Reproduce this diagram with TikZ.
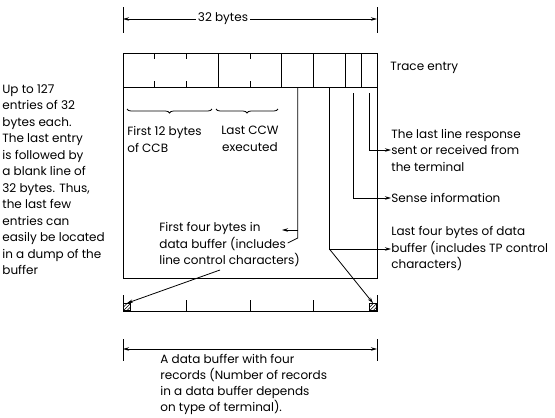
\documentclass[tikz,border=0pt]{standalone}
\usepackage{fontspec}
\setmainfont{Poppins}
\usetikzlibrary{arrows.meta,decorations.pathreplacing}

\begin{document}
\begin{tikzpicture}[x=1pt, y=-1pt, >={Stealth[length=6pt,width=3.5pt]}, line width=0.8pt,
    txt/.style={align=left, inner sep=0pt, font=\fontsize{12}{16.5}\selectfont},
    ctxt/.style={txt, align=center},
    brc/.style={decorate, decoration={brace, mirror, amplitude=4pt}},
    hatch/.style={draw, minimum size=7pt, inner sep=0pt,
      path picture={\draw[line width=0.5pt] (path picture bounding box.south west) -- (path picture bounding box.north east);
        \draw[line width=0.5pt] (path picture bounding box.west) -- (path picture bounding box.north);
        \draw[line width=0.5pt] (path picture bounding box.south) -- (path picture bounding box.east);}}]
  \useasboundingbox (0,0) rectangle (555,418);

  % trace entry, 32 bytes
  \draw (123,53) rectangle (377,87);
  \foreach \b in {12,20,24,28,30}
    \draw (123+\b*7.9375,53) -- (123+\b*7.9375,87);
  \foreach \b in {4,8,16} {
    \draw (123+\b*7.9375,53) -- ++(0,6);
    \draw (123+\b*7.9375,87) -- ++(0,-6);
  }
  \draw (123,87) rectangle (377,278);

  % width of an entry
  \coordinate (topL) at (123,19);
  \coordinate (topR) at (377,19);
  \draw (123,7) -- (123,33);
  \draw (377,7) -- (377,33);
  \draw[<->] (topL) -- (topR);
  \node[fill=white, inner xsep=1.5pt, inner ysep=0pt, font=\fontsize{12}{14}\selectfont] (width) at (223,19) {32 bytes};

  % fields
  \coordinate (dbfirst) at (297.7,87);
  \coordinate (dblast) at (329.4,87);
  \coordinate (sensef) at (353.2,93);
  \coordinate (respf) at (369.1,93);

  \draw[brc] (127,109) -- (212,109);
  \draw[brc] (216,109) -- (278,109);

  % labels
  \node[txt, anchor=west] (trace) at (390,68) {Trace entry};
  \node[txt, anchor=north west] (ccb) at (127,126) {First 12 bytes\\of CCB};
  \node[ctxt, anchor=north] (ccw) at (250,126) {Last CCW\\executed};
  \node[txt, anchor=west] (resp) at (391,150) {The last line response\\sent or received from\\the terminal};
  \node[txt, anchor=west] (sense) at (391,198) {Sense information};
  \node[txt, anchor=west] (lastfour) at (391,249) {Last four bytes of data\\buffer (includes TP control\\characters)};
  \node[txt, anchor=north west] (firstfour) at (159,222) {First four bytes in\\data buffer (includes\\line control characters)};
  \node[txt, anchor=north west] (entries) at (2,84) {Up to 127\\entries of 32\\bytes each.\\The last entry\\is followed by\\a blank line of\\32 bytes. Thus,\\the last few\\entries can\\easily be located\\in a dump of the\\buffer};
  \node[txt, anchor=north west, font=\fontsize{12}{16}\selectfont] (buffer) at (160,354) {A data buffer with four\\records (Number of records\\in a data buffer depends\\on type of terminal).};

  % data buffer
  \draw (123,295) -- (123,311) -- (377,311) -- (377,295);
  \foreach \i in {1,2,3}
    \draw (123+\i*63.5,300) -- (123+\i*63.5,311);
  \node[hatch, anchor=south west] (hatchL) at (123,311) {};
  \node[hatch, anchor=south east] (hatchR) at (377,311) {};

  \coordinate (botL) at (123,349);
  \coordinate (botR) at (377,349);
  \draw (123,339) -- (123,361);
  \draw (377,339) -- (377,361);
  \draw[<->] (botL) -- (botR);

  % connectors
  \coordinate (inend) at (282,230);
  \coordinate (lcc) at (220,270);
  \draw[->] (respf) |- (resp.west);
  \draw[->] (sensef) |- (sense.west);
  \draw[->] (dblast) |- (lastfour.west);
  \draw[->] (dblast |- lastfour.west) -- (hatchR.north);
  \draw (dbfirst) -- ++(0,151) -- ++(-10,5);
  \draw[->] (dbfirst |- inend) -- (inend);
  \draw[->] (lcc) -- (hatchL.north);
\end{tikzpicture}
\end{document}
